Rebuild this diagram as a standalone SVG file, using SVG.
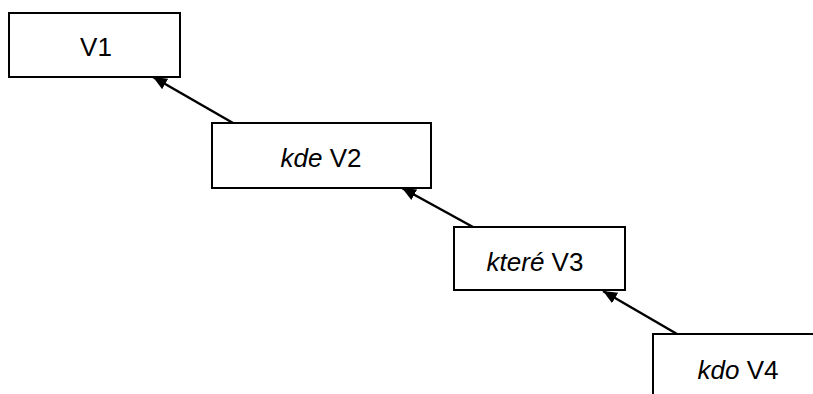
<svg xmlns="http://www.w3.org/2000/svg" width="813" height="394" viewBox="0 0 813 394">
<style>
.box{fill:#fff;stroke:#000;stroke-width:2}
.t{font-family:"Liberation Sans",Arial,sans-serif;font-size:26px;fill:#000;text-anchor:middle}
.i{font-style:italic}
.c{stroke:#000;stroke-width:2.5;fill:none;marker-end:url(#ah)}
</style>
<defs>
<marker id="ah" markerUnits="userSpaceOnUse" markerWidth="16" markerHeight="14" refX="14" refY="6" orient="auto">
<path d="M0,0 L14,6 L0,12 Z" fill="#000"/>
</marker>
</defs>
<rect width="813" height="394" fill="#fff"/>
<g id="n1"><rect class="box" x="9" y="13" width="171" height="64"/><text class="t" x="96" y="56">V1</text></g>
<g id="n2"><rect class="box" x="212" y="123" width="219" height="65"/><text class="t" x="321" y="167"><tspan class="i">kde</tspan> V2</text></g>
<g id="n3"><rect class="box" x="454" y="227" width="171" height="63"/><text class="t" x="535" y="271"><tspan class="i">které</tspan> V3</text></g>
<g id="n4"><rect class="box" x="653" y="334" width="200" height="100"/><text class="t" x="738" y="379"><tspan class="i">kdo</tspan> V4</text></g>
<g id="connectors">
<line class="c" x1="233" y1="123" x2="153" y2="77"/>
<line class="c" x1="473" y1="227" x2="402" y2="188"/>
<line class="c" x1="677" y1="334" x2="603" y2="291"/>
</g>
</svg>
